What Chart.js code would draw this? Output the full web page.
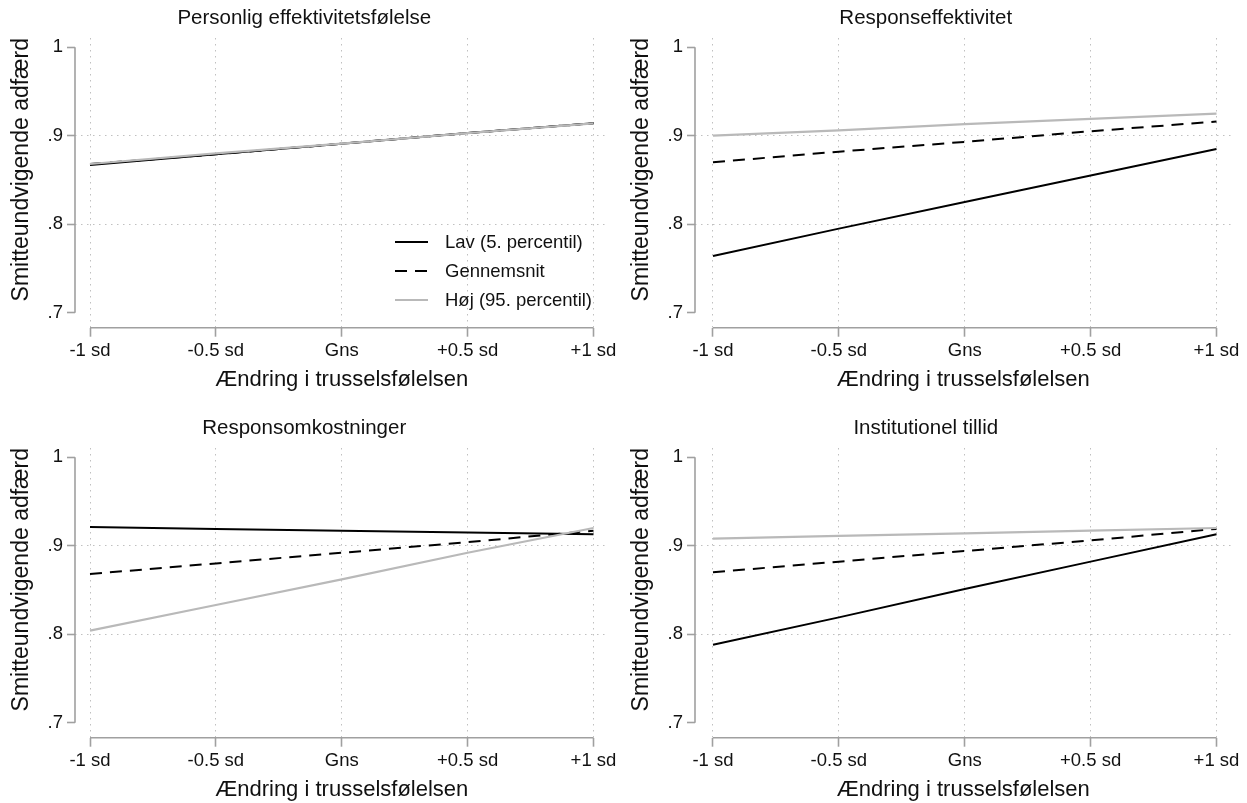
<!DOCTYPE html>
<html>
<head>
<meta charset="utf-8">
<script src="https://cdn.jsdelivr.net/npm/chart.js@4.4.1/dist/chart.umd.min.js"></script>
<style>
  html, body { margin: 0; padding: 0; background: #fff; }
  body { width: 1247px; height: 803px; position: relative; overflow: hidden; }
  canvas { position: absolute; }
</style>
</head>
<body>
<canvas id="c0" width="626" height="393" style="left:0;top:0"></canvas>
<canvas id="c1" width="627" height="393" style="left:620px;top:0"></canvas>
<canvas id="c2" width="626" height="393" style="left:0;top:410px"></canvas>
<canvas id="c3" width="627" height="393" style="left:620px;top:410px"></canvas>
<script>
const panelTitles = ["Personlig effektivitetsfølelse", "Responseffektivitet", "Responsomkostninger", "Institutionel tillid"]
const seriesNames = ["Lav (5. percentil)", "Gennemsnit", "Høj (95. percentil)"]
const xValues = [-1, -0.5, 0, 0.5, 1]
const xTickLabels = ["-1 sd", "-0.5 sd", "Gns", "+0.5 sd", "+1 sd"]
const yTicks = [0.7, 0.8, 0.9, 1]
const yTickLabels = [".7", ".8", ".9", "1"]
const xTitle = "Ændring i trusselsfølelsen"
const yTitle = "Smitteundvigende adfærd"

const personligLav = [0.867, 0.879, 0.891, 0.903, 0.914]
const personligGns = [0.868, 0.879, 0.891, 0.903, 0.914]
const personligHoj = [0.868, 0.880, 0.891, 0.903, 0.914]

const responsLav = [0.764, 0.795, 0.825, 0.855, 0.885]
const responsGns = [0.870, 0.882, 0.893, 0.905, 0.916]
const responsHoj = [0.900, 0.906, 0.913, 0.919, 0.925]

const omkostLav = [0.921, 0.919, 0.917, 0.915, 0.913]
const omkostGns = [0.868, 0.880, 0.892, 0.904, 0.917]
const omkostHoj = [0.804, 0.833, 0.862, 0.892, 0.920]

const tillidLav = [0.788, 0.819, 0.851, 0.882, 0.913]
const tillidGns = [0.870, 0.882, 0.894, 0.906, 0.919]
const tillidHoj = [0.908, 0.911, 0.914, 0.917, 0.920]

const panelSeries = [
  [personligLav, personligGns, personligHoj],
  [responsLav, responsGns, responsHoj],
  [omkostLav, omkostGns, omkostHoj],
  [tillidLav, tillidGns, tillidHoj]
]

// layout of each panel (canvas px)
const AXIS_W = 75
const PX_PER_X = 251.75
const RIGHT_GAP = 15
const AREA_TOP = 38
const AREA_BOTTOM = 327.7
const CANVAS_H = 393
const PX_PER_Y = 885
const panelGaps = [15, 18, 15, 18]

const FONT = "'Liberation Sans', Arial, Helvetica, sans-serif"
Chart.defaults.font.family = FONT
Chart.defaults.color = "#111"

const lineStyles = [
  { borderColor: "#000", borderWidth: 2, borderDash: [], order: 2 },
  { borderColor: "#000", borderWidth: 2, borderDash: [12, 8], order: 1 },
  { borderColor: "#b9b9b9", borderWidth: 2.2, borderDash: [], order: 0 }
]

const axisColor = "#a0a0a0"
const gridColor = "#c0c0c0"

const axisLines = {
  id: "axisLines",
  afterDraw(chart) {
    const { ctx, chartArea, scales } = chart
    ctx.save()
    ctx.strokeStyle = axisColor
    ctx.lineWidth = 1.6
    ctx.beginPath()
    ctx.moveTo(chartArea.left, scales.y.getPixelForValue(yTicks[0]))
    ctx.lineTo(chartArea.left, scales.y.getPixelForValue(yTicks[yTicks.length - 1]))
    ctx.moveTo(scales.x.getPixelForValue(xValues[0]), chartArea.bottom)
    ctx.lineTo(scales.x.getPixelForValue(xValues[xValues.length - 1]), chartArea.bottom)
    ctx.stroke()
    ctx.restore()
  }
}

const innerLegend = {
  id: "innerLegend",
  afterDraw(chart) {
    const { ctx } = chart
    ctx.save()
    ctx.font = "18.5px " + FONT
    ctx.textBaseline = "middle"
    chart.data.datasets.forEach((ds, i) => {
      const y = 242 + i * 29
      ctx.strokeStyle = ds.borderColor
      ctx.lineWidth = ds.borderWidth
      ctx.setLineDash(ds.borderDash)
      ctx.beginPath()
      ctx.moveTo(395, y)
      ctx.lineTo(428, y)
      ctx.stroke()
      ctx.setLineDash([])
      ctx.fillStyle = "#111"
      ctx.fillText(ds.label, 445, y + 1)
    })
    ctx.restore()
  }
}

const near = (a, b) => Math.abs(a - b) < 1e-6

panelTitles.forEach((title, p) => {
  const canvas = document.getElementById("c" + p)
  const gap = panelGaps[p]
  const padRight = canvas.width - (AXIS_W + gap + 2 * PX_PER_X + RIGHT_GAP)

  new Chart(canvas, {
    type: "line",
    data: {
      datasets: panelSeries[p].map((vals, i) => ({
        label: seriesNames[i],
        data: xValues.map((x, j) => ({ x, y: vals[j] })),
        ...lineStyles[i],
        fill: false,
        pointRadius: 0,
        tension: 0
      }))
    },
    options: {
      responsive: false,
      animation: false,
      layout: { padding: { left: 0, top: 0, right: padRight, bottom: 0 } },
      plugins: {
        legend: { display: false },
        tooltip: { enabled: false },
        title: {
          display: true,
          text: title,
          color: "#111",
          font: { size: 20.5, weight: "normal", lineHeight: 1.2 },
          padding: { top: 6.4, bottom: 7 }
        }
      },
      scales: {
        x: {
          type: "linear",
          min: -1 - gap / PX_PER_X,
          max: 1 + RIGHT_GAP / PX_PER_X,
          afterBuildTicks: (s) => { s.ticks = xValues.map(v => ({ value: v })) },
          afterFit: (s) => { s.height = CANVAS_H - AREA_BOTTOM },
          ticks: {
            autoSkip: false,
            maxRotation: 0,
            padding: 5,
            color: "#111",
            font: { size: 18.5, lineHeight: 1 },
            callback: (v) => xTickLabels[xValues.findIndex(x => near(x, v))]
          },
          grid: { color: gridColor, lineWidth: 1, tickLength: 9, tickColor: axisColor, tickWidth: 1.6 },
          border: { display: false, dash: [1.5, 4.5] },
          title: {
            display: true,
            text: xTitle,
            color: "#111",
            font: { size: 22, lineHeight: 1.2 },
            padding: { top: 0, bottom: 0 }
          }
        },
        y: {
          type: "linear",
          min: 0.7 - (AREA_BOTTOM - 312.7) / PX_PER_Y,
          max: 1 + (47.2 - AREA_TOP) / PX_PER_Y,
          afterBuildTicks: (s) => { s.ticks = yTicks.map(v => ({ value: v })) },
          afterFit: (s) => { s.width = AXIS_W },
          ticks: {
            padding: 4,
            color: "#111",
            font: { size: 18.5, lineHeight: 1 },
            callback: (v) => yTickLabels[yTicks.findIndex(t => near(t, v))]
          },
          grid: {
            color: (c) => (c.tick && (near(c.tick.value, 0.8) || near(c.tick.value, 0.9))) ? gridColor : "rgba(0,0,0,0)",
            lineWidth: 1,
            tickLength: 8,
            tickColor: axisColor,
            tickWidth: 1.6
          },
          border: { display: false, dash: [1.5, 4.5] },
          title: {
            display: true,
            text: yTitle,
            align: "end",
            color: "#111",
            font: { size: 23, lineHeight: 1.2 },
            padding: { top: 8, bottom: 0 }
          }
        }
      }
    },
    plugins: p === 0 ? [axisLines, innerLegend] : [axisLines]
  })
})
</script>
</body>
</html>
